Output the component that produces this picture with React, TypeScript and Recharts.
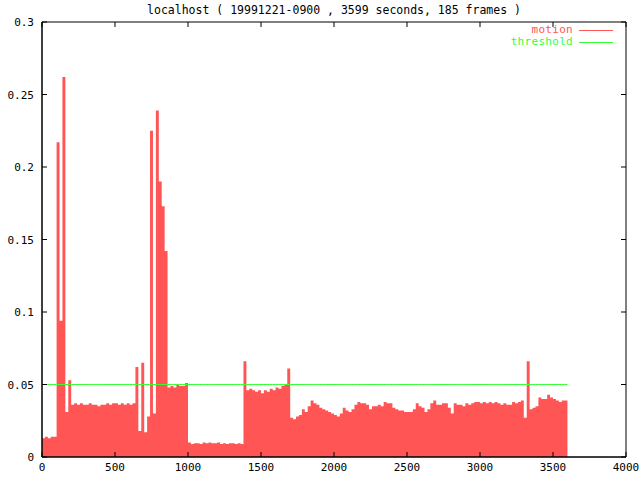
import React from "react";
import { ComposedChart, Area, Line, XAxis, YAxis, ReferenceArea } from "recharts";

const TITLE = "localhost ( 19991221-0900 , 3599 seconds, 185 frames )";
const FRAME_STEP = 20;
const END_TIME = 3599;
const THRESHOLD = 0.05;

const motion = [
  0.013, 0.014, 0.013, 0.014, 0.014, 0.217, 0.094, 0.262, 0.031, 0.053,
  0.036, 0.037, 0.036, 0.037, 0.036, 0.036, 0.037, 0.036, 0.036, 0.035,
  0.036, 0.036, 0.037, 0.036, 0.037, 0.037, 0.036, 0.037, 0.036, 0.037,
  0.036, 0.037, 0.062, 0.018, 0.065, 0.017, 0.028, 0.225, 0.030, 0.239,
  0.190, 0.173, 0.142, 0.048, 0.049, 0.048, 0.050, 0.049, 0.049, 0.051,
  0.010, 0.009, 0.0095, 0.0095, 0.009, 0.010, 0.0095, 0.010, 0.0095, 0.0095,
  0.010, 0.009, 0.0095, 0.009, 0.0095, 0.0095, 0.009, 0.0095, 0.009, 0.066,
  0.046, 0.047, 0.046, 0.045, 0.046, 0.044, 0.046, 0.045, 0.047, 0.046,
  0.048, 0.047, 0.049, 0.050, 0.061, 0.027, 0.026, 0.028, 0.029, 0.033,
  0.031, 0.035, 0.039, 0.037, 0.036, 0.034, 0.033, 0.032, 0.031, 0.030,
  0.029, 0.028, 0.030, 0.034, 0.032, 0.031, 0.033, 0.036, 0.038, 0.037,
  0.037, 0.036, 0.033, 0.035, 0.035, 0.036, 0.035, 0.038, 0.037, 0.037,
  0.034, 0.033, 0.032, 0.032, 0.031, 0.031, 0.031, 0.033, 0.037, 0.035,
  0.034, 0.031, 0.033, 0.037, 0.039, 0.036, 0.036, 0.037, 0.037, 0.034,
  0.030, 0.037, 0.036, 0.036, 0.035, 0.037, 0.036, 0.037, 0.038, 0.038,
  0.037, 0.038, 0.037, 0.038, 0.037, 0.038, 0.037, 0.036, 0.037, 0.036,
  0.036, 0.038, 0.037, 0.038, 0.039, 0.027, 0.066, 0.033, 0.034, 0.035,
  0.041, 0.040, 0.040, 0.043, 0.041, 0.040, 0.039, 0.038, 0.039, 0.039,
];

const xTicks = [0, 500, 1000, 1500, 2000, 2500, 3000, 3500, 4000];
const yTicks = [0, 0.05, 0.1, 0.15, 0.2, 0.25, 0.3];

const MOTION_COLOR = "#ff5555";
const THRESH_COLOR = "#33ff33";
const FONT = "'DejaVu Sans Mono', monospace";

// layout
const W = 640;
const H = 480;
const PLOT_LEFT = 42;
const PLOT_TOP = 22;
const PLOT_RIGHT = 626;
const XAXIS_H = 23;
const TICK_LEN = 5;

const data = [
  ...motion.map((v, i) => ({ t: i * FRAME_STEP, motion: v, threshold: THRESHOLD })),
  { t: END_TIME, motion: motion[motion.length - 1], threshold: THRESHOLD },
];

const fmt = (v: number) => String(Number(v.toFixed(3)));

const XTick = (props: any) => {
  const { x, y, payload } = props;
  return (
    <g>
      <line x1={x} x2={x} y1={y} y2={y - TICK_LEN} stroke="#000" />
      <line x1={x} x2={x} y1={PLOT_TOP} y2={PLOT_TOP + TICK_LEN} stroke="#000" />
      <text x={x} y={y + 14} textAnchor="middle" fontFamily={FONT} fontSize={11} fill="#000">
        {fmt(payload.value)}
      </text>
    </g>
  );
};

const YTick = (props: any) => {
  const { x, y, payload } = props;
  return (
    <g>
      <line x1={x} x2={x + TICK_LEN} y1={y} y2={y} stroke="#000" />
      <line x1={PLOT_RIGHT} x2={PLOT_RIGHT - TICK_LEN} y1={y} y2={y} stroke="#000" />
      <text x={x - 8} y={y + 4} textAnchor="end" fontFamily={FONT} fontSize={11} fill="#000">
        {fmt(payload.value)}
      </text>
    </g>
  );
};

const legendItems = [
  { label: "motion", color: MOTION_COLOR },
  { label: "threshold", color: THRESH_COLOR },
];

export default function App() {
  return (
    <div style={{ position: "absolute", left: 0, top: 0, width: W, height: H, background: "#fff" }}>
      <div
        style={{
          position: "absolute",
          left: PLOT_LEFT,
          width: PLOT_RIGHT - PLOT_LEFT,
          top: 3,
          textAlign: "center",
          fontFamily: FONT,
          fontSize: 11.5,
          whiteSpace: "pre",
          color: "#000",
        }}
      >
        {TITLE}
      </div>
      <div
        style={{
          position: "absolute",
          right: 27,
          top: 24,
          fontFamily: FONT,
          fontSize: 11,
          lineHeight: "12px",
          zIndex: 2,
        }}
      >
        {legendItems.map((it) => (
          <div key={it.label} style={{ display: "flex", justifyContent: "flex-end", alignItems: "center", height: 12 }}>
            <span style={{ color: it.color, whiteSpace: "pre", letterSpacing: "0.3px" }}>{it.label}</span>
            <span style={{ display: "inline-block", width: 34, height: 0, borderTop: `1px solid ${it.color}`, marginLeft: 6 }} />
          </div>
        ))}
      </div>
      <ComposedChart
        width={W}
        height={H}
        data={data}
        margin={{ top: PLOT_TOP, right: W - PLOT_RIGHT, left: 0, bottom: 0 }}
      >
        <XAxis
          dataKey="t"
          type="number"
          domain={[0, 4000]}
          ticks={xTicks}
          height={XAXIS_H}
          tickSize={0}
          tickMargin={0}
          tickLine={false}
          axisLine={{ stroke: "#000" }}
          tick={<XTick />}
          interval={0}
          allowDataOverflow
        />
        <YAxis
          type="number"
          domain={[0, 0.3]}
          ticks={yTicks}
          width={PLOT_LEFT}
          tickSize={0}
          tickMargin={0}
          tickLine={false}
          axisLine={{ stroke: "#000" }}
          tick={<YTick />}
          interval={0}
          allowDataOverflow
        />
        <Area
          type="stepAfter"
          dataKey="motion"
          stroke="none"
          fill={MOTION_COLOR}
          fillOpacity={1}
          isAnimationActive={false}
          dot={false}
          activeDot={false}
        />
        <Line
          type="linear"
          dataKey="threshold"
          stroke={THRESH_COLOR}
          strokeWidth={1}
          dot={false}
          activeDot={false}
          isAnimationActive={false}
        />
        <ReferenceArea x1={0} x2={4000} y1={0} y2={0.3} fill="none" stroke="#000" strokeWidth={1} ifOverflow="visible" />
      </ComposedChart>
    </div>
  );
}
